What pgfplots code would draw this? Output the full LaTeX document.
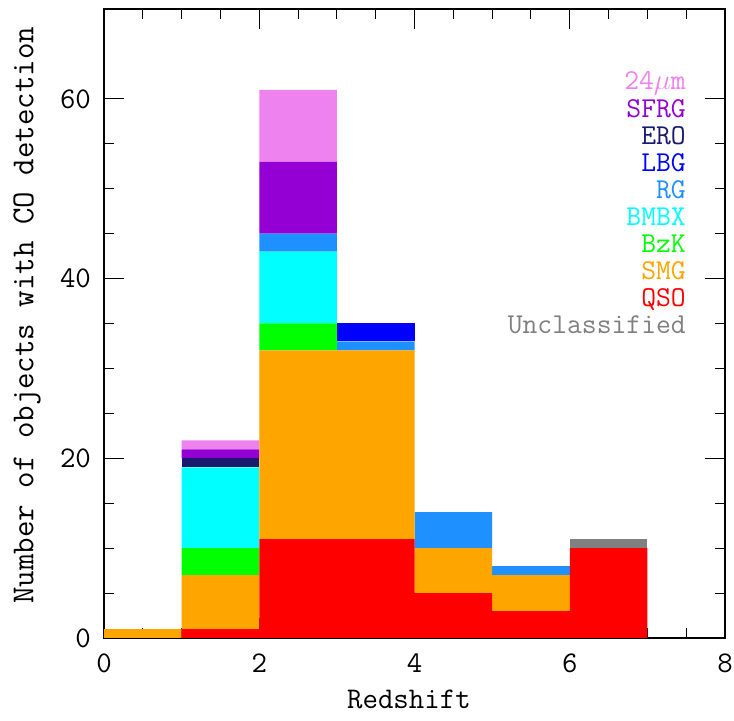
\documentclass[border=0pt]{standalone}
\usepackage{pgfplots}
\pgfplotsset{compat=1.18}
\definecolor{c24}{RGB}{238,130,238}
\definecolor{csfrg}{RGB}{148,0,211}
\definecolor{cero}{RGB}{25,25,112}
\definecolor{clbg}{RGB}{0,0,255}
\definecolor{crg}{RGB}{30,144,255}
\definecolor{cbmbx}{RGB}{0,255,255}
\definecolor{cbzk}{RGB}{0,255,0}
\definecolor{csmg}{RGB}{255,165,0}
\definecolor{cqso}{RGB}{255,0,0}
\definecolor{cunc}{RGB}{128,128,128}
\begin{document}
\begin{tikzpicture}
\begin{axis}[
  name=ax,
  scale only axis,
  width=310.5pt, height=314.5pt,
  xmin=0, xmax=8, ymin=0, ymax=70,
  ybar stacked, bar width=1,
  xtick={0,2,4,6,8}, minor x tick num=3,
  ytick={0,20,40,60}, minor y tick num=3,
  tick align=inside,
  major tick length=10pt, minor tick length=5pt,
  tick style={black, line width=0.5pt},
  axis line style={line width=1pt},
  /pgf/number format/assume math mode=true,
  ticklabel style={font=\fontsize{15}{18}\selectfont\ttfamily},
  xticklabel style={yshift=-4.5pt},
  yticklabel style={xshift=-3pt},
  xlabel={Redshift},
  ylabel={Number of objects with CO detection},
  xlabel style={font=\fontsize{15}{18}\selectfont\ttfamily, at={(axis description cs:0.491,-0.097)}, anchor=center},
  ylabel style={font=\fontsize{16}{19}\selectfont\ttfamily, at={(axis description cs:-0.124,0.513)}, anchor=center},
]
\addplot[draw=none, fill=cqso] coordinates {(0.5,0) (1.5,1) (2.5,11) (3.5,11) (4.5,5) (5.5,3) (6.5,10) (7.5,0)};
\addplot[draw=none, fill=csmg] coordinates {(0.5,1) (1.5,6) (2.5,21) (3.5,21) (4.5,5) (5.5,4) (6.5,0) (7.5,0)};
\addplot[draw=none, fill=cbzk] coordinates {(0.5,0) (1.5,3) (2.5,3) (3.5,0) (4.5,0) (5.5,0) (6.5,0) (7.5,0)};
\addplot[draw=none, fill=cbmbx] coordinates {(0.5,0) (1.5,9) (2.5,8) (3.5,0) (4.5,0) (5.5,0) (6.5,0) (7.5,0)};
\addplot[draw=none, fill=crg] coordinates {(0.5,0) (1.5,0) (2.5,2) (3.5,1) (4.5,4) (5.5,1) (6.5,0) (7.5,0)};
\addplot[draw=none, fill=clbg] coordinates {(0.5,0) (1.5,0) (2.5,0) (3.5,2) (4.5,0) (5.5,0) (6.5,0) (7.5,0)};
\addplot[draw=none, fill=cero] coordinates {(0.5,0) (1.5,1) (2.5,0) (3.5,0) (4.5,0) (5.5,0) (6.5,0) (7.5,0)};
\addplot[draw=none, fill=csfrg] coordinates {(0.5,0) (1.5,1) (2.5,8) (3.5,0) (4.5,0) (5.5,0) (6.5,0) (7.5,0)};
\addplot[draw=none, fill=c24] coordinates {(0.5,0) (1.5,1) (2.5,8) (3.5,0) (4.5,0) (5.5,0) (6.5,0) (7.5,0)};
\addplot[draw=none, fill=cunc] coordinates {(0.5,0) (1.5,0) (2.5,0) (3.5,0) (4.5,0) (5.5,0) (6.5,1) (7.5,0)};
\node[anchor=base east, inner sep=0pt, font=\fontsize{14.4}{17}\selectfont\ttfamily, text=c24] at (axis cs:7.5,61) {24$\mu$m};
\node[anchor=base east, inner sep=0pt, font=\fontsize{14.4}{17}\selectfont\ttfamily, text=csfrg] at (axis cs:7.5,57.9) {SFRG};
\node[anchor=base east, inner sep=0pt, font=\fontsize{14.4}{17}\selectfont\ttfamily, text=cero] at (axis cs:7.5,54.9) {ERO};
\node[anchor=base east, inner sep=0pt, font=\fontsize{14.4}{17}\selectfont\ttfamily, text=clbg] at (axis cs:7.5,51.9) {LBG};
\node[anchor=base east, inner sep=0pt, font=\fontsize{14.4}{17}\selectfont\ttfamily, text=crg] at (axis cs:7.5,48.9) {RG};
\node[anchor=base east, inner sep=0pt, font=\fontsize{14.4}{17}\selectfont\ttfamily, text=cbmbx] at (axis cs:7.5,45.9) {BMBX};
\node[anchor=base east, inner sep=0pt, font=\fontsize{14.4}{17}\selectfont\ttfamily, text=cbzk] at (axis cs:7.5,42.9) {BzK};
\node[anchor=base east, inner sep=0pt, font=\fontsize{14.4}{17}\selectfont\ttfamily, text=csmg] at (axis cs:7.5,39.9) {SMG};
\node[anchor=base east, inner sep=0pt, font=\fontsize{14.4}{17}\selectfont\ttfamily, text=cqso] at (axis cs:7.5,36.9) {QSO};
\node[anchor=base east, inner sep=0pt, font=\fontsize{14.4}{17}\selectfont\ttfamily, text=cunc] at (axis cs:7.5,33.9) {Unclassified};
\end{axis}
\pgfresetboundingbox
\path[use as bounding box] (ax.south west) ++(-52pt,-41.5pt) rectangle ++(367pt,360.5pt);
\end{tikzpicture}
\end{document}
